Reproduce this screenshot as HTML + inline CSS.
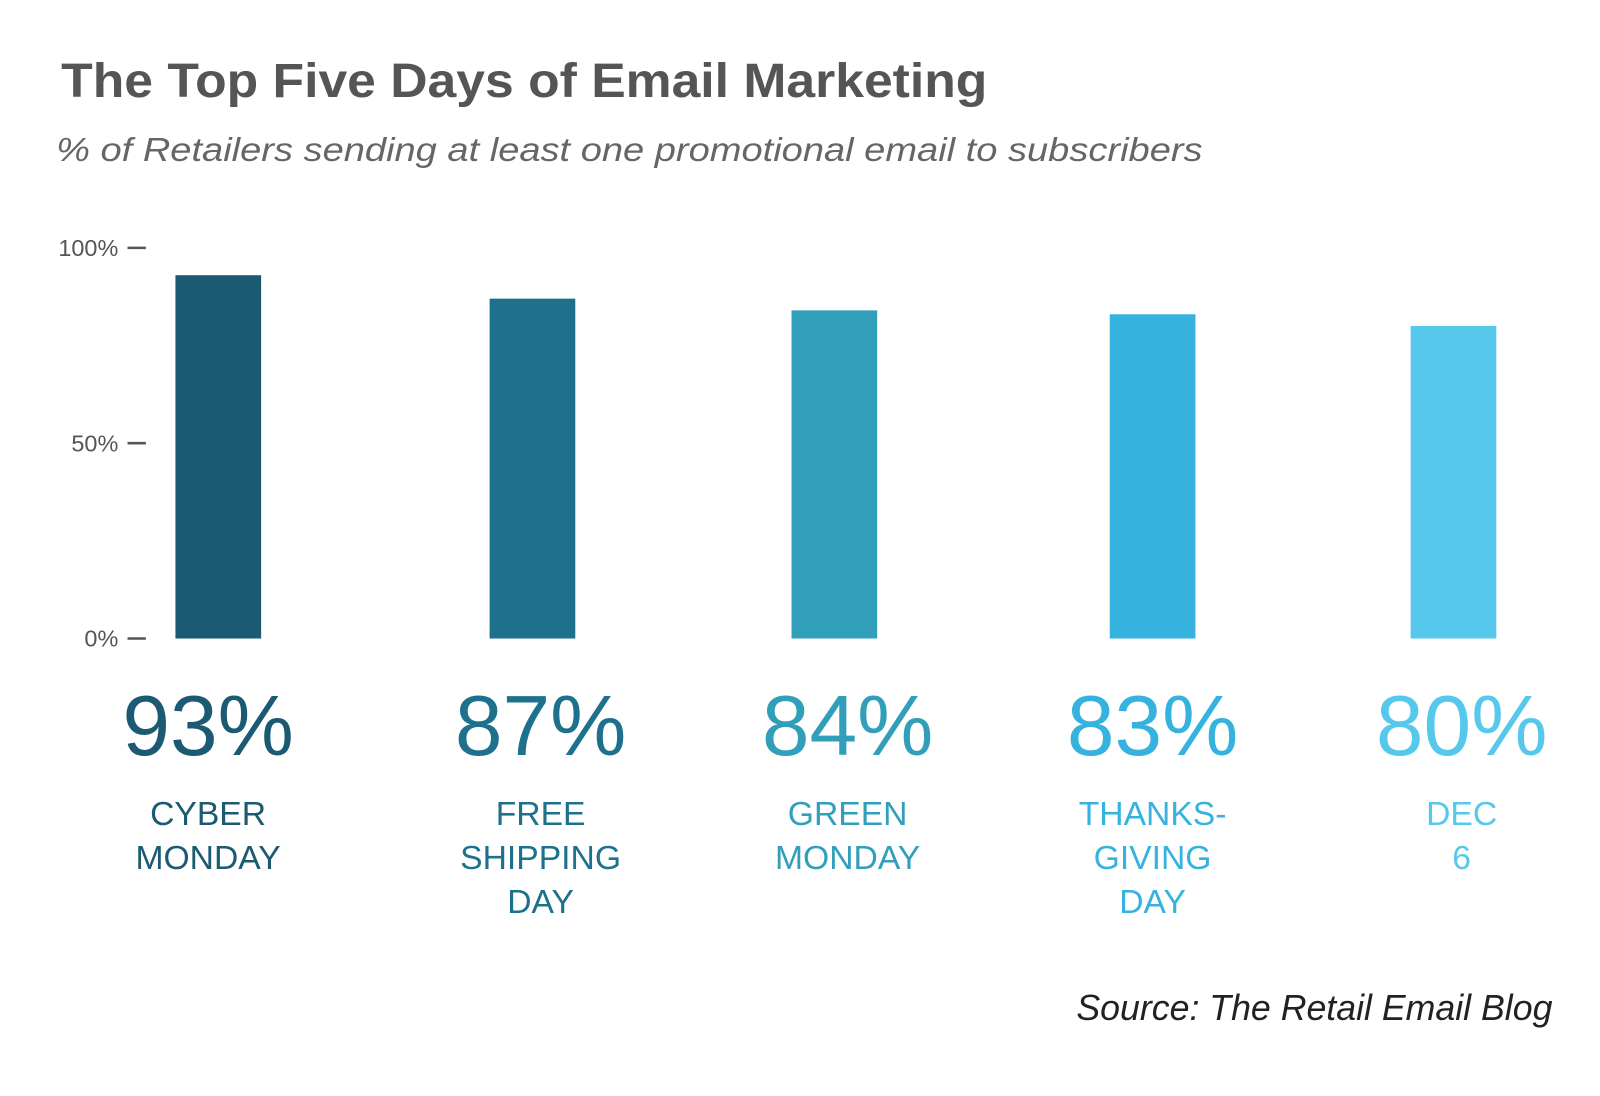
<!DOCTYPE html>
<html><head><meta charset="utf-8"><style>
body{margin:0;width:1600px;height:1091px;background:#fff;overflow:hidden;font-family:"Liberation Sans",sans-serif}
</style></head><body>
<svg width="1600" height="1091" xmlns="http://www.w3.org/2000/svg">
<g transform="scale(1.02)">
<text x="60" y="95" font-size="47" font-weight="bold" fill="#555" textLength="908" lengthAdjust="spacingAndGlyphs">The Top Five Days of Email Marketing</text>
<text x="55" y="158" font-size="33" font-style="italic" fill="#666" textLength="1124" lengthAdjust="spacingAndGlyphs">% of Retailers sending at least one promotional email to subscribers</text>
<g id="axis"></g>
<g id="bars"></g>
<text x="1522" y="1000" font-size="35" font-style="italic" fill="#222" text-anchor="end">Source: The Retail Email Blog</text>
</g>
</svg>
<script>
const categories=[["CYBER","MONDAY"],["FREE","SHIPPING","DAY"],["GREEN","MONDAY"],["THANKS-","GIVING","DAY"],["DEC","6"]];
const values=[93,87,84,83,80];
const ticks=[0,50,100];
const colors=["#1b5a72","#1d718d","#319fba","#35b2de","#55c8ec"];
const centers=[214,522,818,1130,1425];
const labelCenters=[204,530,831,1130,1433];
const y0=626,y100=243;
const y=v=>y0-(y0-y100)*v/100;
const NS="http://www.w3.org/2000/svg";
function mk(t,a,p){const e=document.createElementNS(NS,t);for(const k in a)e.setAttribute(k,a[k]);p.appendChild(e);return e;}
const ax=document.getElementById('axis');
ticks.forEach(t=>{
 const l=mk('line',{x1:125,x2:143,y1:y(t),y2:y(t),stroke:'#555','stroke-width':2.5},ax);
 
 
 const tx=mk('text',{x:116,y:y(t)+8,'font-size':23,fill:'#555','text-anchor':'end'},ax);
 tx.textContent=t+'%';
 
 
});
const bg=document.getElementById('bars');
values.forEach((v,i)=>{
 const r=mk('rect',{x:centers[i]-42,y:y(v),width:84,height:y0-y(v),fill:colors[i]},bg);
 
 
 const p=mk('text',{x:labelCenters[i],y:740,'font-size':84,fill:colors[i],'text-anchor':'middle'},bg);
 p.textContent=v+'%';
 
 
 categories[i].forEach((s,j)=>{
  const c=mk('text',{x:labelCenters[i],y:809+j*43,'font-size':33,fill:colors[i],'text-anchor':'middle'},bg);
  c.textContent=s;
  
  
 });
});
</script>
</body></html>
